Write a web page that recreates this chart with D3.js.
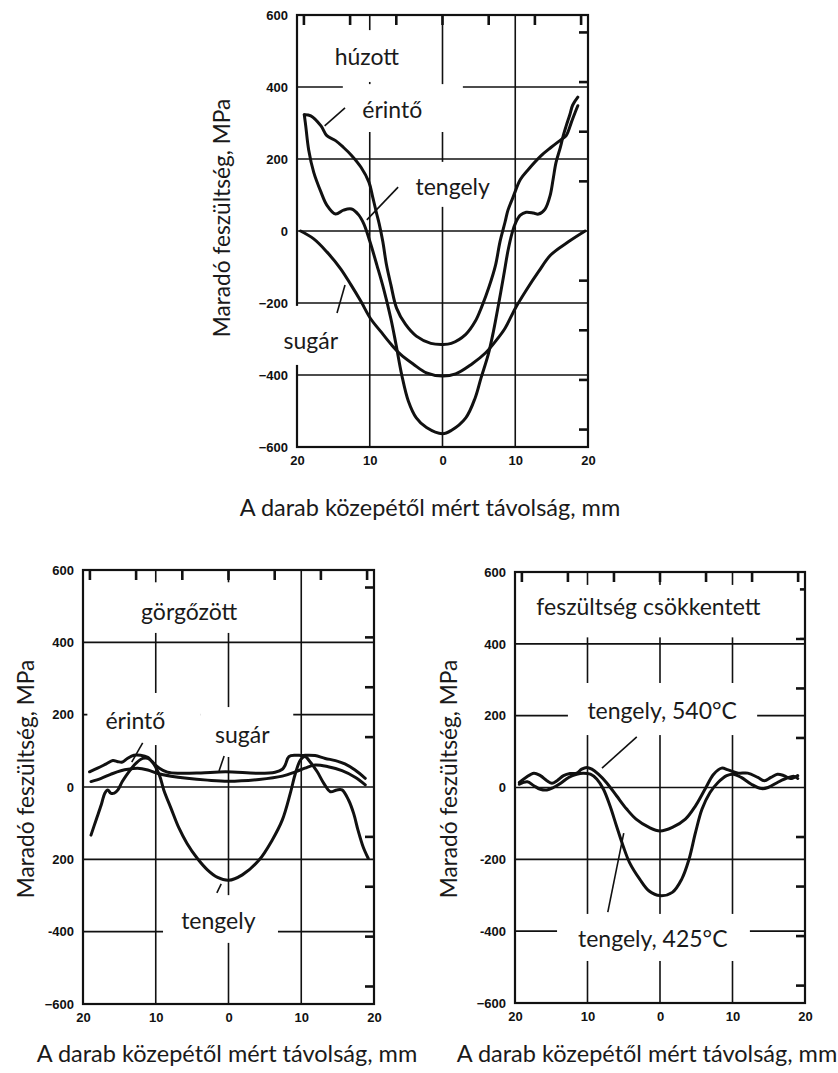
<!DOCTYPE html>
<html>
<head>
<meta charset="utf-8">
<script src="https://cdn.jsdelivr.net/npm/d3@7"></script>
<style>
body { margin: 0; background: #fff; }
.tick text { font-family: "Liberation Sans", Arial, sans-serif; font-weight: bold; font-size: 13px; fill: #111; }
.note { font-family: Lato, "Open Sans", sans-serif; font-size: 23px; fill: #1a1a1a; }
.xtitle { font-family: Lato, "Open Sans", sans-serif; font-size: 23.5px; fill: #1a1a1a; }
.ytitle { font-family: Lato, "Open Sans", sans-serif; font-size: 22.7px; fill: #1a1a1a; }
</style>
</head>
<body>
<svg id="chart" width="838" height="1073"></svg>
<script>

// ---- data (distance from centre, mm ; residual stress, MPa) ----
var xTicks = [-20, -10, 0, 10, 20];
var yTicks = [600, 400, 200, 0, -200, -400, -600];
var gridX = [-10, 0, 10];
var gridY = [400, 200, 0, -200, -400];
var ksiTicks = [-80, -60, -40, -20, 20, 40, 60, 80];      // right-hand ticks (ksi)
var inchTicks = [-0.75, -0.5, -0.25, 0, 0.25, 0.5, 0.75];  // top ticks (in)

var yLabelsHuzott = ["600", "400", "200", "0", "\u2212200", "\u2212400", "\u2212600"];
var yLabelsGorgo = ["600", "400", "200", "0", "200", "-400", "\u2212600"];
var yLabelsCsokk = ["600", "400", "200", "0", "-200", "-400", "\u2212600"];

var xTitle = "A darab közepétől mért távolság, mm";
var yTitle = "Maradó feszültség, MPa";

// húzott
var huzottErinto = [[-19.0,323],[-18.1,320],[-16.7,292],[-15.9,265],[-14.7,251],[-13.6,232],[-12.5,210],
  [-11.2,177],[-10.1,135],[-9.6,95],[-9.1,52],[-8.7,20],[-8.2,-30],[-7.7,-94],[-7.1,-149],[-6.3,-215],
  [-5.1,-259],[-3.6,-292],[-1.6,-312],[0,-315],[1.2,-312],[3.2,-287],[4.5,-251],[5.4,-210],[6.4,-155],
  [7.3,-94],[7.9,-30],[8.6,25],[9.0,58],[9.7,94],[10.7,143],[11.8,171],[13.6,210],[14.9,232],[16.3,254],
  [17.0,265],[17.7,301],[18.2,328],[18.6,348]];
var huzottTengely = [[-19.0,323],[-18.8,292],[-18.4,226],[-17.7,163],[-16.7,108],[-15.9,72],[-14.7,47],
  [-13.6,58],[-12.5,61],[-11.5,44],[-10.8,19],[-10.0,-28],[-9.0,-96],[-8.1,-160],[-7.1,-243],[-6.4,-314],
  [-5.6,-400],[-4.7,-472],[-3.6,-519],[-2.2,-546],[0,-563],[1.2,-554],[3.2,-519],[4.5,-463],[5.3,-408],
  [6.3,-342],[7.0,-279],[7.7,-204],[8.4,-125],[9.0,-55],[9.6,-3],[10.1,25],[10.7,44],[11.5,52],[12.5,50],
  [13.2,47],[14.1,61],[14.8,99],[15.2,143],[15.6,190],[16.2,232],[16.6,265],[17.0,292],[17.5,323],
  [17.9,350],[18.6,372]];
var huzottSugar = [[-19.5,0],[-17.7,-22],[-15.9,-58],[-14.0,-105],[-12.6,-149],[-11.2,-196],[-9.9,-243],
  [-8.5,-279],[-7.1,-314],[-5.8,-342],[-4.0,-370],[-2.2,-394],[0,-403],[1.8,-397],[4.0,-370],[5.9,-339],
  [7.3,-306],[8.6,-270],[10.0,-215],[11.4,-168],[13.2,-113],[14.9,-66],[17.3,-30],[19.6,0]];

// görgőzött
var gorgoSugar = [[-19.1,42],[-18.0,52],[-16.8,64],[-15.9,73],[-15.2,70],[-14.6,69],[-13.9,79],[-13.0,88],
  [-12.1,88],[-11.1,82],[-10.5,70],[-9.5,52],[-8.4,41],[-6.6,38],[-3.8,39],[-0.4,42],[4.2,38],[6.4,41],
  [7.4,49],[7.8,61],[8.3,84],[9.2,88],[10.1,87],[11.0,88],[11.9,87],[13.3,79],[14.7,73],[16.0,64],
  [17.4,47],[18.8,24]];
var gorgoErinto = [[-18.9,15],[-17.5,24],[-16.2,35],[-14.8,45],[-13.4,50],[-12.5,52],[-11.1,47],[-9.8,38],
  [-7.9,30],[-5.7,24],[-2.9,19],[0,16],[4.2,21],[7.4,30],[9.2,42],[10.5,52],[11.9,61],[13.7,56],
  [15.6,45],[17.4,27],[18.8,6]];
var gorgoTengely = [[-18.9,-133],[-18.2,-91],[-17.5,-50],[-17.0,-17],[-16.6,-8],[-16.2,-17],[-15.7,-17],
  [-15.2,-8],[-14.6,15],[-13.7,42],[-12.7,66],[-11.8,79],[-11.1,79],[-10.5,70],[-9.5,33],[-8.9,-8],
  [-7.9,-59],[-6.8,-114],[-5.7,-156],[-4.3,-197],[-2.9,-229],[-1.5,-250],[0,-258],[1.9,-243],[4.2,-202],
  [6.0,-147],[7.4,-91],[8.5,-17],[9.2,38],[9.9,75],[10.5,84],[11.2,70],[12.2,42],[13.1,10],[14.0,-13],
  [14.9,-8],[15.6,-8],[16.5,-36],[17.2,-73],[17.8,-119],[18.5,-165],[19.2,-197]];

// feszültség csökkentett
var csokk540 = [[-19.4,14],[-18.5,28],[-17.4,40],[-16.5,33],[-15.6,19],[-14.9,12],[-14.2,19],[-13.3,33],
  [-12.4,39],[-11.5,40],[-10.8,51],[-10.1,56],[-9.4,51],[-8.5,37],[-7.4,14],[-6.0,-23],[-4.6,-60],
  [-3.3,-88],[-1.5,-111],[0,-121],[1.7,-111],[3.5,-88],[4.9,-51],[6.2,-5],[7.4,37],[8.5,54],[9.4,49],
  [10.8,40],[12.1,40],[13.5,28],[14.4,19],[15.3,28],[16.2,37],[17.1,33],[18.0,25],[19.0,33]];
var csokk425 = [[-19.4,9],[-18.3,16],[-17.4,5],[-16.5,-5],[-15.6,-7],[-14.7,0],[-13.7,12],[-12.6,28],
  [-11.5,37],[-10.6,40],[-9.6,37],[-8.7,23],[-7.8,-5],[-6.9,-51],[-6.0,-107],[-5.1,-162],[-4.2,-209],
  [-2.8,-255],[-1.5,-288],[0,-301],[1.7,-292],[3.0,-255],[4.0,-200],[4.9,-125],[5.8,-60],[6.9,-14],
  [8.0,14],[9.2,33],[10.1,37],[11.2,28],[12.6,9],[14.0,-3],[14.9,0],[16.2,14],[17.1,23],[18.5,31],[19.0,25]];

// ---- layout of the three panels ----
var panels = [
  { left: 297, right: 588, top: 15, bottom: 447,
    series: [huzottErinto, huzottTengely, huzottSugar], yLabels: yLabelsHuzott,
    xTitlePos: [430, 516], yTitlePos: [222, 218],
    patches: [[-16.8, -3.1, 558, 414], [-13.7, 2.8, 408, 275], [-5.4, 9.6, 192, 67], [-23, -13.8, -208, -372]],
    notes: [["húzott", -10.4, 483], ["érintő", -6.9, 336], ["tengely", 1.4, 122], ["sugár", -18.1, -306]],
    pointers: [[-13.4, 342, -16.2, 292], [-6.1, 122, -10.4, 31], [-13.4, -150, -14.5, -228]] },
  { left: 83, right: 374, top: 570, bottom: 1004,
    series: [gorgoSugar, gorgoErinto, gorgoTengely], yLabels: yLabelsGorgo,
    xTitlePos: [227, 1062], yTitlePos: [26, 779],
    patches: [[-17.6, 8.5, 566, 426], [-19.4, -3.9, 260, 116], [-3.9, 8.9, 221, 83], [-9.0, 6.8, -299, -431]],
    notes: [["görgőzött", -5.4, 484], ["érintő", -12.8, 182], ["sugár", 1.9, 144], ["tengely", -1.4, -370]],
    pointers: [[-11.8, 122, -13.3, 69], [-0.6, 86, -1.3, 44], [-1.0, -268, -1.6, -293]] },
  { left: 515, right: 805, top: 572, bottom: 1003,
    series: [csokk540, csokk425], yLabels: yLabelsCsokk,
    xTitlePos: [647, 1062], yTitlePos: [449, 779],
    patches: [[-19, 19.3, 564, 418], [-12.7, 13.4, 291, 146], [-14.2, 12.4, -352, -483]],
    notes: [["feszültség csökkentett", -1.6, 503], ["tengely, 540°C", 0.3, 213], ["tengely, 425°C", -1.0, -422]],
    pointers: [[-3.2, 141, -8.0, 54], [-7.2, -347, -5.0, -127]] }
];

var svg = d3.select("#chart");
var ink = "#111";

panels.forEach(function (p) {
  var x = d3.scaleLinear().domain([-20, 20]).range([p.left, p.right]);
  var y = d3.scaleLinear().domain([-600, 600]).range([p.bottom, p.top]);
  var g = svg.append("g");

  // grid
  g.selectAll("line.gy").data(gridY).enter().append("line").attr("class", "gy")
    .attr("x1", p.left).attr("x2", p.right)
    .attr("y1", function (d) { return y(d); }).attr("y2", function (d) { return y(d); })
    .attr("stroke", ink).attr("stroke-width", 1.6);
  g.selectAll("line.gx").data(gridX).enter().append("line").attr("class", "gx")
    .attr("y1", p.top).attr("y2", p.bottom)
    .attr("x1", function (d) { return x(d); }).attr("x2", function (d) { return x(d); })
    .attr("stroke", ink).attr("stroke-width", 1.6);

  // frame
  g.append("rect")
    .attr("x", p.left).attr("y", p.top)
    .attr("width", p.right - p.left).attr("height", p.bottom - p.top)
    .attr("fill", "none").attr("stroke", ink).attr("stroke-width", 2.2);

  // secondary ticks (inches on top, ksi on the right)
  g.selectAll("line.ti").data(inchTicks).enter().append("line").attr("class", "ti")
    .attr("x1", function (d) { return x(d * 25.4); }).attr("x2", function (d) { return x(d * 25.4); })
    .attr("y1", p.top).attr("y2", p.top + 10)
    .attr("stroke", ink).attr("stroke-width", 2.6);
  g.selectAll("line.tk").data(ksiTicks).enter().append("line").attr("class", "tk")
    .attr("y1", function (d) { return y(d * 6.894757); }).attr("y2", function (d) { return y(d * 6.894757); })
    .attr("x1", p.right).attr("x2", p.right - 9)
    .attr("stroke", ink).attr("stroke-width", 2.6);

  // white label boxes that break the grid
  g.selectAll("rect.patch").data(p.patches).enter().append("rect").attr("class", "patch")
    .attr("x", function (d) { return x(d[0]); })
    .attr("width", function (d) { return x(d[1]) - x(d[0]); })
    .attr("y", function (d) { return y(d[2]); })
    .attr("height", function (d) { return y(d[3]) - y(d[2]); })
    .attr("fill", "#fff");

  // axes (labels only)
  var ya = g.append("g").attr("transform", "translate(" + p.left + ",0)")
    .call(d3.axisLeft(y).tickValues(yTicks).tickSize(0).tickPadding(9)
      .tickFormat(function (d, i) { return p.yLabels[i]; }));
  ya.select(".domain").remove();
  var xa = g.append("g").attr("transform", "translate(0," + p.bottom + ")")
    .call(d3.axisBottom(x).tickValues(xTicks).tickSize(0).tickPadding(9)
      .tickFormat(function (d) { return Math.abs(d); }));
  xa.select(".domain").remove();

  // curves
  var line = d3.line()
    .x(function (d) { return x(d[0]); })
    .y(function (d) { return y(d[1]); })
    .curve(d3.curveCatmullRom.alpha(0.5));
  g.selectAll("path.curve").data(p.series).enter().append("path").attr("class", "curve")
    .attr("d", line)
    .attr("fill", "none").attr("stroke", ink)
    .attr("stroke-width", 3).attr("stroke-linejoin", "round").attr("stroke-linecap", "round");

  // pointers and labels
  g.selectAll("line.ptr").data(p.pointers).enter().append("line").attr("class", "ptr")
    .attr("x1", function (d) { return x(d[0]); }).attr("y1", function (d) { return y(d[1]); })
    .attr("x2", function (d) { return x(d[2]); }).attr("y2", function (d) { return y(d[3]); })
    .attr("stroke", ink).attr("stroke-width", 1.6);
  g.selectAll("text.note").data(p.notes).enter().append("text")
    .attr("class", "note")
    .attr("x", function (d) { return x(d[1]); })
    .attr("y", function (d) { return y(d[2]); })
    .attr("dy", "0.35em").attr("text-anchor", "middle")
    .text(function (d) { return d[0]; });

  // titles
  svg.append("text").attr("class", "xtitle")
    .attr("x", p.xTitlePos[0]).attr("y", p.xTitlePos[1])
    .attr("text-anchor", "middle").text(xTitle);
  svg.append("text").attr("class", "ytitle")
    .attr("transform", "translate(" + p.yTitlePos[0] + "," + p.yTitlePos[1] + ") rotate(-90)")
    .attr("dy", "0.35em").attr("text-anchor", "middle").text(yTitle);
});
</script>
</body>
</html>
